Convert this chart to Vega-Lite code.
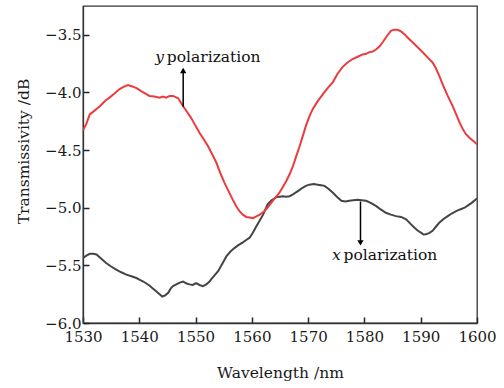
{
  "$schema": "https://vega.github.io/schema/vega-lite/v6.json",
  "width": 394,
  "height": 317,
  "autosize": "none",
  "padding": {"left": 83, "top": 6, "right": 27, "bottom": 65},
  "background": "white",
  "config": {
    "font": "DejaVu Serif",
    "view": {"stroke": "#333333", "strokeWidth": 1.3},
    "axis": {
      "labelFont": "DejaVu Serif",
      "titleFont": "DejaVu Serif",
      "labelFontSize": 15,
      "titleFontSize": 15.5,
      "titleFontWeight": "normal",
      "labelColor": "#1a1a1a",
      "titleColor": "#1a1a1a",
      "domainColor": "#333333",
      "domainWidth": 1.3,
      "tickColor": "#222222",
      "tickWidth": 1.5,
      "tickSize": -6,
      "labelOverlap": false,
      "labelFlush": false,
      "grid": false
    }
  },
  "datasets": {
    "ypol": [
      {"wl": 1530.0, "t": -4.33}, {"wl": 1530.6, "t": -4.27}, {"wl": 1531.2, "t": -4.19}, {"wl": 1532.0, "t": -4.16}, {"wl": 1533.0, "t": -4.12},
      {"wl": 1534.0, "t": -4.07}, {"wl": 1534.7, "t": -4.045}, {"wl": 1535.6, "t": -4.01}, {"wl": 1536.5, "t": -3.97}, {"wl": 1537.3, "t": -3.95},
      {"wl": 1538.0, "t": -3.935}, {"wl": 1538.9, "t": -3.95}, {"wl": 1539.6, "t": -3.965}, {"wl": 1540.4, "t": -3.99}, {"wl": 1541.1, "t": -4.01},
      {"wl": 1541.8, "t": -4.03}, {"wl": 1542.7, "t": -4.035}, {"wl": 1543.6, "t": -4.045}, {"wl": 1544.2, "t": -4.035}, {"wl": 1544.8, "t": -4.045},
      {"wl": 1545.4, "t": -4.03}, {"wl": 1546.0, "t": -4.03}, {"wl": 1546.9, "t": -4.05}, {"wl": 1547.8, "t": -4.12}, {"wl": 1548.5, "t": -4.17},
      {"wl": 1549.2, "t": -4.22}, {"wl": 1550.0, "t": -4.29}, {"wl": 1550.7, "t": -4.35}, {"wl": 1551.5, "t": -4.41}, {"wl": 1552.2, "t": -4.465},
      {"wl": 1553.0, "t": -4.54}, {"wl": 1553.7, "t": -4.61}, {"wl": 1554.4, "t": -4.70}, {"wl": 1555.1, "t": -4.78}, {"wl": 1555.9, "t": -4.86},
      {"wl": 1556.6, "t": -4.93}, {"wl": 1557.2, "t": -4.985}, {"wl": 1557.8, "t": -5.03}, {"wl": 1558.4, "t": -5.06}, {"wl": 1559.0, "t": -5.08},
      {"wl": 1559.6, "t": -5.085}, {"wl": 1560.2, "t": -5.09}, {"wl": 1560.8, "t": -5.075}, {"wl": 1561.4, "t": -5.06}, {"wl": 1562.0, "t": -5.04},
      {"wl": 1562.5, "t": -5.015}, {"wl": 1563.1, "t": -4.98}, {"wl": 1563.7, "t": -4.94}, {"wl": 1564.3, "t": -4.905}, {"wl": 1564.9, "t": -4.87},
      {"wl": 1565.5, "t": -4.82}, {"wl": 1566.1, "t": -4.77}, {"wl": 1566.7, "t": -4.71}, {"wl": 1567.3, "t": -4.64}, {"wl": 1567.9, "t": -4.55},
      {"wl": 1568.5, "t": -4.465}, {"wl": 1569.1, "t": -4.37}, {"wl": 1569.6, "t": -4.29}, {"wl": 1570.2, "t": -4.21}, {"wl": 1570.8, "t": -4.146},
      {"wl": 1571.7, "t": -4.075}, {"wl": 1572.6, "t": -4.016}, {"wl": 1573.5, "t": -3.96}, {"wl": 1574.4, "t": -3.91}, {"wl": 1575.2, "t": -3.84},
      {"wl": 1576.1, "t": -3.78}, {"wl": 1577.0, "t": -3.74}, {"wl": 1577.9, "t": -3.71}, {"wl": 1578.8, "t": -3.69}, {"wl": 1579.7, "t": -3.67},
      {"wl": 1580.3, "t": -3.665}, {"wl": 1580.9, "t": -3.65}, {"wl": 1581.5, "t": -3.645}, {"wl": 1582.1, "t": -3.625}, {"wl": 1582.7, "t": -3.6},
      {"wl": 1583.3, "t": -3.56}, {"wl": 1584.0, "t": -3.51}, {"wl": 1584.7, "t": -3.465}, {"wl": 1585.3, "t": -3.455}, {"wl": 1585.9, "t": -3.456},
      {"wl": 1586.5, "t": -3.47}, {"wl": 1587.1, "t": -3.494}, {"wl": 1587.8, "t": -3.53}, {"wl": 1588.6, "t": -3.567}, {"wl": 1589.5, "t": -3.61},
      {"wl": 1590.4, "t": -3.654}, {"wl": 1591.3, "t": -3.70}, {"wl": 1592.1, "t": -3.74}, {"wl": 1592.7, "t": -3.79}, {"wl": 1593.3, "t": -3.856},
      {"wl": 1594.0, "t": -3.94}, {"wl": 1594.8, "t": -4.03}, {"wl": 1595.6, "t": -4.11}, {"wl": 1596.3, "t": -4.19}, {"wl": 1596.9, "t": -4.26},
      {"wl": 1597.5, "t": -4.32}, {"wl": 1598.0, "t": -4.36}, {"wl": 1598.6, "t": -4.39}, {"wl": 1599.3, "t": -4.42}, {"wl": 1600.0, "t": -4.45}
    ],
    "xpol": [
      {"wl": 1530.0, "t": -5.435}, {"wl": 1530.6, "t": -5.415}, {"wl": 1531.2, "t": -5.40}, {"wl": 1531.8, "t": -5.40}, {"wl": 1532.4, "t": -5.406},
      {"wl": 1533.2, "t": -5.44}, {"wl": 1534.1, "t": -5.48}, {"wl": 1535.0, "t": -5.51}, {"wl": 1535.9, "t": -5.537}, {"wl": 1536.8, "t": -5.56},
      {"wl": 1537.7, "t": -5.58}, {"wl": 1538.6, "t": -5.595}, {"wl": 1539.5, "t": -5.61}, {"wl": 1540.1, "t": -5.625}, {"wl": 1540.7, "t": -5.64},
      {"wl": 1541.2, "t": -5.655}, {"wl": 1541.8, "t": -5.675}, {"wl": 1542.4, "t": -5.70}, {"wl": 1543.0, "t": -5.725}, {"wl": 1543.6, "t": -5.75},
      {"wl": 1544.1, "t": -5.77}, {"wl": 1544.6, "t": -5.76}, {"wl": 1545.1, "t": -5.74}, {"wl": 1545.6, "t": -5.70}, {"wl": 1546.0, "t": -5.68},
      {"wl": 1546.6, "t": -5.665}, {"wl": 1547.2, "t": -5.65}, {"wl": 1547.8, "t": -5.64}, {"wl": 1548.3, "t": -5.655}, {"wl": 1548.9, "t": -5.665},
      {"wl": 1549.5, "t": -5.67}, {"wl": 1550.1, "t": -5.655}, {"wl": 1550.7, "t": -5.67}, {"wl": 1551.3, "t": -5.68}, {"wl": 1551.9, "t": -5.665},
      {"wl": 1552.4, "t": -5.645}, {"wl": 1552.8, "t": -5.62}, {"wl": 1553.4, "t": -5.585}, {"wl": 1554.0, "t": -5.55}, {"wl": 1554.7, "t": -5.49},
      {"wl": 1555.5, "t": -5.42}, {"wl": 1556.2, "t": -5.38}, {"wl": 1556.9, "t": -5.35}, {"wl": 1557.6, "t": -5.325}, {"wl": 1558.4, "t": -5.30},
      {"wl": 1559.0, "t": -5.28}, {"wl": 1559.6, "t": -5.26}, {"wl": 1560.2, "t": -5.215}, {"wl": 1560.8, "t": -5.16}, {"wl": 1561.4, "t": -5.11},
      {"wl": 1562.0, "t": -5.06}, {"wl": 1562.8, "t": -4.97}, {"wl": 1563.5, "t": -4.935}, {"wl": 1564.3, "t": -4.91}, {"wl": 1564.9, "t": -4.905},
      {"wl": 1565.5, "t": -4.90}, {"wl": 1566.1, "t": -4.905}, {"wl": 1566.7, "t": -4.90}, {"wl": 1567.3, "t": -4.885}, {"wl": 1567.9, "t": -4.865},
      {"wl": 1568.5, "t": -4.845}, {"wl": 1569.0, "t": -4.827}, {"wl": 1569.6, "t": -4.81}, {"wl": 1570.2, "t": -4.80}, {"wl": 1571.0, "t": -4.795},
      {"wl": 1571.7, "t": -4.80}, {"wl": 1572.3, "t": -4.805}, {"wl": 1572.9, "t": -4.81}, {"wl": 1573.6, "t": -4.835}, {"wl": 1574.4, "t": -4.87},
      {"wl": 1575.1, "t": -4.905}, {"wl": 1575.9, "t": -4.94}, {"wl": 1576.6, "t": -4.945}, {"wl": 1577.3, "t": -4.94}, {"wl": 1578.0, "t": -4.935},
      {"wl": 1578.8, "t": -4.93}, {"wl": 1579.5, "t": -4.935}, {"wl": 1580.3, "t": -4.94}, {"wl": 1581.2, "t": -4.96}, {"wl": 1582.1, "t": -4.986},
      {"wl": 1582.9, "t": -5.015}, {"wl": 1583.8, "t": -5.044}, {"wl": 1584.7, "t": -5.06}, {"wl": 1585.6, "t": -5.073}, {"wl": 1586.5, "t": -5.08},
      {"wl": 1587.4, "t": -5.10}, {"wl": 1588.2, "t": -5.14}, {"wl": 1588.9, "t": -5.174}, {"wl": 1589.5, "t": -5.20}, {"wl": 1590.1, "t": -5.218},
      {"wl": 1590.5, "t": -5.232}, {"wl": 1590.9, "t": -5.23}, {"wl": 1591.5, "t": -5.22}, {"wl": 1592.1, "t": -5.20}, {"wl": 1592.7, "t": -5.165},
      {"wl": 1593.3, "t": -5.13}, {"wl": 1594.0, "t": -5.10}, {"wl": 1594.8, "t": -5.073}, {"wl": 1595.5, "t": -5.05}, {"wl": 1596.3, "t": -5.03},
      {"wl": 1597.0, "t": -5.015}, {"wl": 1597.8, "t": -5.00}, {"wl": 1598.4, "t": -4.98}, {"wl": 1599.0, "t": -4.96}, {"wl": 1600.0, "t": -4.92}
    ],
    "arrows": [
      {"wl": 1547.8, "from": -4.123, "to": -3.815, "head": -3.81, "shape": "triangle-up"},
      {"wl": 1579.3, "from": -4.946, "to": -5.30, "head": -5.305, "shape": "triangle-down"}
    ],
    "italic": [
      {"wl": 1544.4, "t": -3.738, "txt": "y"},
      {"wl": 1575.8, "t": -5.451, "txt": "x"}
    ],
    "plain": [
      {"wl": 1544.9, "t": -3.738, "txt": "polarization"},
      {"wl": 1576.3, "t": -5.451, "txt": "polarization"}
    ]
  },
  "layer": [
    {
      "data": {"name": "xpol"},
      "mark": {"type": "line", "color": "#444444", "strokeWidth": 2, "clip": true},
      "encoding": {
        "x": {"field": "wl", "type": "quantitative", "scale": {"domain": [1530, 1600], "nice": false, "zero": false},
              "axis": {"values": [1530, 1540, 1550, 1560, 1570, 1580, 1590, 1600], "format": "d", "title": "Wavelength /nm",
                       "labelPadding": 12, "titleBaseline": "alphabetic", "titleY": 54}},
        "y": {"field": "t", "type": "quantitative", "scale": {"domain": [-6, -3.25], "nice": false, "zero": false},
              "axis": {"values": [-6, -5.5, -5, -4.5, -4, -3.5], "format": ".1f", "title": "Transmissivity /dB",
                       "labelPadding": 8, "titleBaseline": "alphabetic", "titleX": -55, "titleY": 145}}
      }
    },
    {
      "data": {"name": "ypol"},
      "mark": {"type": "line", "color": "#ec3b3f", "strokeWidth": 2, "clip": true},
      "encoding": {
        "x": {"field": "wl", "type": "quantitative"},
        "y": {"field": "t", "type": "quantitative"}
      }
    },
    {
      "data": {"name": "arrows"},
      "mark": {"type": "rule", "color": "#000000", "strokeWidth": 1.5},
      "encoding": {
        "x": {"field": "wl", "type": "quantitative"},
        "y": {"field": "from", "type": "quantitative"},
        "y2": {"field": "to"}
      }
    },
    {
      "data": {"name": "arrows"},
      "mark": {"type": "point", "filled": true, "color": "#000000", "opacity": 1, "size": 40},
      "encoding": {
        "x": {"field": "wl", "type": "quantitative"},
        "y": {"field": "head", "type": "quantitative"},
        "shape": {"field": "shape", "type": "nominal", "scale": null}
      }
    },
    {
      "data": {"name": "italic"},
      "mark": {"type": "text", "font": "DejaVu Serif", "fontSize": 15.5, "fontStyle": "italic", "color": "#111111", "baseline": "alphabetic", "align": "right"},
      "encoding": {
        "x": {"field": "wl", "type": "quantitative"},
        "y": {"field": "t", "type": "quantitative"},
        "text": {"field": "txt"}
      }
    },
    {
      "data": {"name": "plain"},
      "mark": {"type": "text", "font": "DejaVu Serif", "fontSize": 15.5, "color": "#111111", "baseline": "alphabetic", "align": "left"},
      "encoding": {
        "x": {"field": "wl", "type": "quantitative"},
        "y": {"field": "t", "type": "quantitative"},
        "text": {"field": "txt"}
      }
    }
  ]
}
